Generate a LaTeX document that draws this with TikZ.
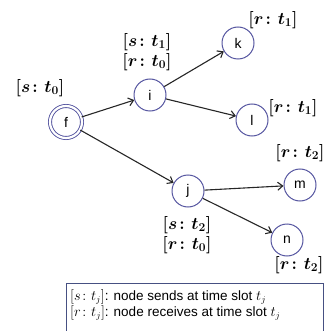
\documentclass[tikz,border=0pt]{standalone}
\usepackage{amsmath,bm}
\usepackage{fontspec}
\setsansfont{Liberation Sans}
\usetikzlibrary{arrows.meta}
\definecolor{circ}{RGB}{85,85,160}
\definecolor{legc}{RGB}{70,80,130}
\begin{document}
\begin{tikzpicture}[x=1pt,y=-1pt,
  vert/.style={circle,draw=circ,fill=white,line width=1pt,minimum size=32pt,inner sep=0pt,font=\sffamily\fontsize{14}{14}\selectfont},
  lab/.style={font=\fontsize{17}{20}\selectfont\boldmath, align=center, inner sep=0pt},
  edge/.style={-{Straight Barb[length=5pt,width=8pt]}, line width=1.1pt, draw=black!85}]
\useasboundingbox (0,0) rectangle (326,331);
\node[vert,double=white,double distance=2.2pt,line width=0.9pt] (f) at (66,122) {f};
\node[vert] (i) at (150,95) {i};
\node[vert] (k) at (238,43) {k};
\node[vert] (l) at (252,120) {l};
\node[vert] (j) at (188,191) {j};
\node[vert] (m) at (300,185) {m};
\node[vert] (n) at (287,240) {n};
\draw[edge] (f) -- (i);
\draw[edge] (i) -- (k);
\draw[edge] (i) -- (l);
\draw[edge] (f) -- (j);
\draw[edge] (j) -- (m);
\draw[edge] (j) -- (n);
\node[lab] (lf) at (40,88) {$[s\colon t_0]$};
\node[lab] (li) at (147,52) {$[s\colon t_1]$\\$[r\colon t_0]$};
\node[lab] (lk) at (273,20) {$[r\colon t_1]$};
\node[lab] (ll) at (293,108) {$[r\colon t_1]$};
\node[lab] (lm) at (300,153) {$[r\colon t_2]$};
\node[lab] (lj) at (187,235) {$[s\colon t_2]$\\$[r\colon t_0]$};
\node[lab] (ln) at (299,265) {$[r\colon t_2]$};
\draw[draw=legc,line width=0.9pt] (66,283) rectangle (323,335);
\node[anchor=north west,align=left,inner sep=0pt,font=\sffamily\fontsize{13.5}{16}\selectfont] (leg) at (70,289)
  {$[s\colon t_j]$: node sends at time slot $t_j$\\$[r\colon t_j]$: node receives at time slot $t_j$};
\end{tikzpicture}
\end{document}
